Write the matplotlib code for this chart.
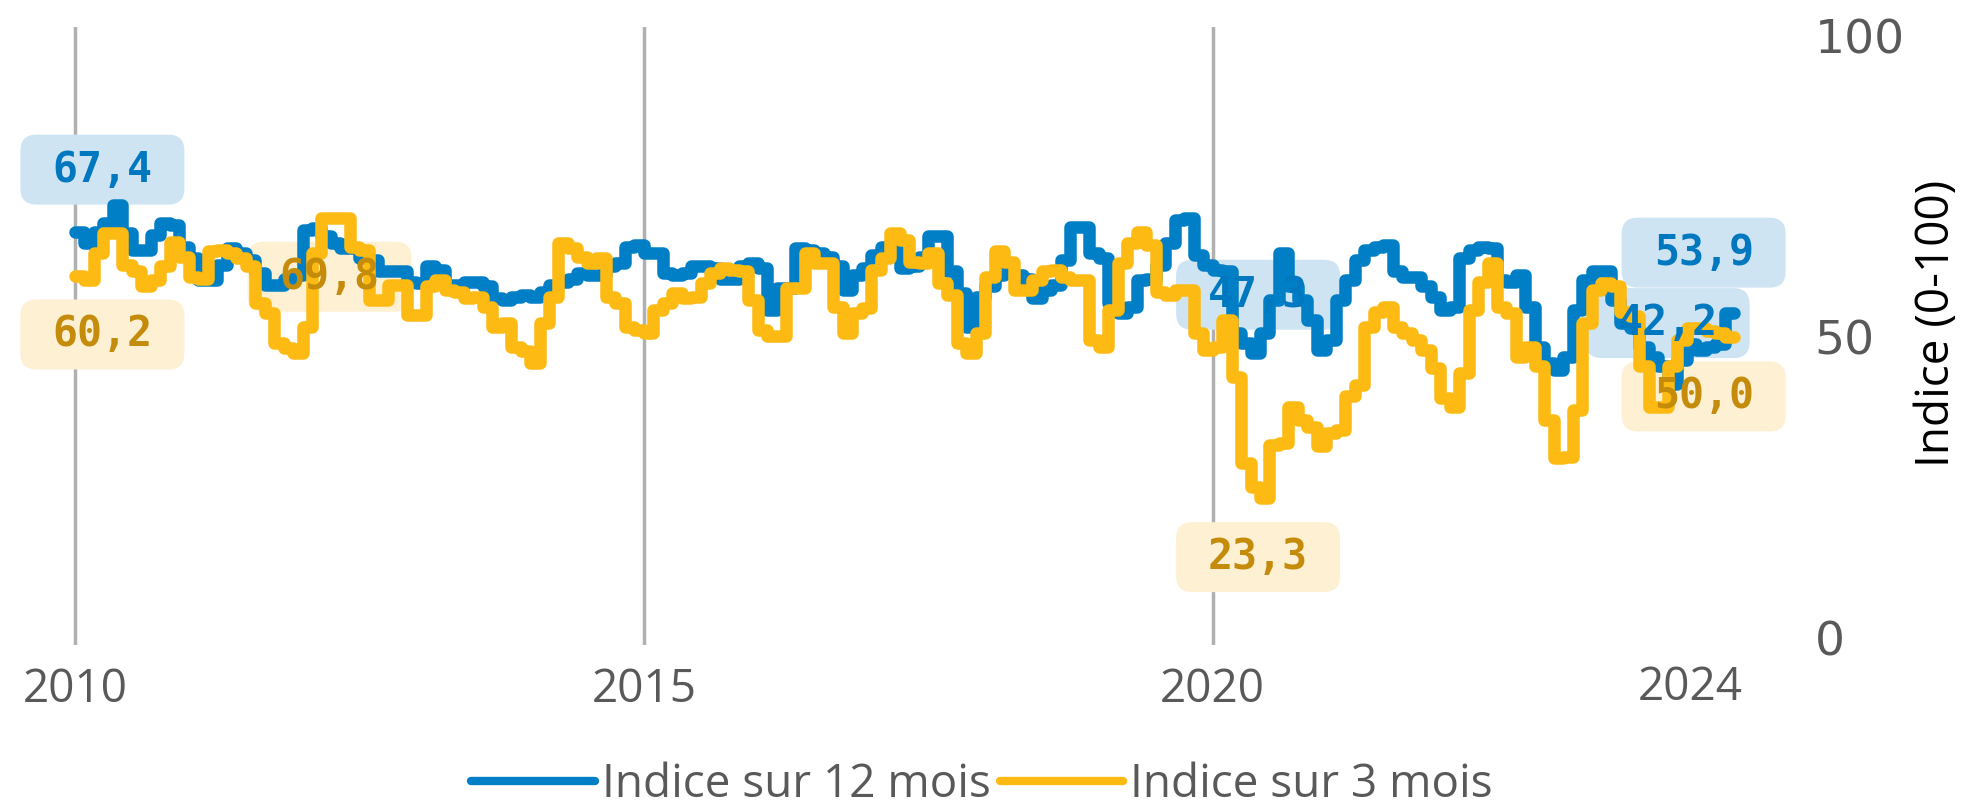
import numpy as np
import matplotlib
matplotlib.use("Agg")
import matplotlib.pyplot as plt
from matplotlib.patches import FancyBboxPatch
from matplotlib.lines import Line2D
import matplotlib.transforms as mtransforms

# monthly values, Jan 2010 -> Jul 2024
indice_12m = [
    67.4, 65.6, 67.5, 68.9, 71.9, 67.2, 64.5, 64.5, 67.0, 68.9, 68.6, 65.0,
    63.1, 59.5, 59.5, 62.0, 64.7, 63.9, 62.8, 60.6, 58.6, 58.6, 59.7, 60.3,
    67.8, 68.1, 66.7, 65.6, 64.7, 64.7, 63.1, 62.8, 60.9, 60.9, 60.9, 59.2,
    58.9, 61.7, 61.1, 58.6, 58.6, 59.2, 59.2, 58.4, 56.4, 56.2, 56.7, 57.0,
    56.7, 57.5, 58.6, 59.2, 59.7, 60.6, 60.3, 60.3, 61.7, 62.2, 65.0, 65.3,
    63.9, 63.9, 60.6, 60.3, 60.6, 61.7, 61.7, 61.4, 59.7, 59.7, 61.7, 62.2,
    61.4, 54.5, 58.1, 58.1, 64.7, 64.5, 63.9, 63.3, 61.7, 57.8, 60.3, 61.4,
    63.6, 65.0, 65.6, 61.4, 61.7, 63.3, 66.7, 66.7, 60.9, 57.3, 51.7, 56.7,
    58.4, 60.3, 60.9, 60.3, 59.7, 56.4, 57.8, 58.6, 62.8, 68.3, 68.3, 63.9,
    63.1, 55.6, 54.0, 55.0, 59.5, 59.7, 62.0, 65.6, 69.4, 69.7, 63.6, 62.0,
    61.1, 60.9, 50.6, 49.0, 47.3, 50.6, 56.2, 63.9, 58.4, 56.2, 52.8, 47.8,
    49.5, 56.2, 59.5, 62.8, 64.5, 65.0, 65.3, 60.9, 60.0, 60.0, 58.4, 56.7,
    54.5, 55.0, 63.1, 64.5, 65.0, 64.7, 59.5, 59.2, 60.3, 55.0, 48.4, 45.6,
    44.5, 46.7, 54.5, 59.5, 61.0, 60.9, 56.2, 52.3, 51.4, 48.4, 46.7, 45.1,
    42.2, 46.2, 48.9, 47.8, 48.4, 48.9, 53.9,
]
indice_3m = [
    60.2, 59.5, 63.9, 67.2, 67.2, 62.0, 60.9, 58.4, 59.5, 61.7, 65.8, 63.3,
    60.0, 59.7, 64.2, 64.5, 63.9, 63.1, 61.7, 55.6, 54.0, 49.0, 48.1, 47.3,
    51.7, 63.9, 69.8, 69.7, 69.7, 65.0, 64.5, 56.2, 56.2, 58.6, 58.6, 53.7,
    53.7, 58.4, 59.5, 57.8, 57.5, 56.4, 56.7, 55.0, 51.7, 52.3, 48.4, 47.6,
    45.6, 52.3, 56.7, 65.6, 64.7, 63.3, 62.2, 63.1, 56.7, 55.6, 51.7, 51.2,
    50.6, 54.5, 55.6, 57.3, 56.4, 56.7, 58.9, 60.6, 61.4, 61.1, 60.9, 56.2,
    51.2, 50.1, 50.1, 58.1, 58.1, 63.9, 62.2, 62.2, 55.0, 50.6, 54.0, 54.8,
    61.1, 63.1, 67.2, 66.1, 62.5, 62.2, 63.9, 58.9, 57.0, 49.0, 47.3, 50.6,
    60.0, 64.2, 62.5, 57.8, 57.8, 59.5, 60.9, 61.1, 60.0, 59.5, 59.5, 49.5,
    48.4, 54.5, 62.2, 65.6, 67.5, 65.3, 57.5, 57.0, 57.8, 57.8, 50.6, 47.8,
    48.4, 52.8, 43.4, 29.0, 25.1, 23.3, 32.1, 32.3, 38.4, 36.2, 35.1, 31.8,
    34.0, 34.5, 40.1, 42.0, 51.7, 54.2, 55.0, 51.7, 50.6, 49.5, 47.8, 44.8,
    39.8, 38.4, 44.0, 54.5, 59.2, 62.2, 55.0, 54.0, 46.7, 48.4, 45.1, 36.2,
    29.8, 30.1, 37.9, 52.3, 57.8, 58.9, 58.4, 54.2, 53.4, 45.1, 38.4, 38.4,
    45.1, 49.5, 51.4, 51.4, 50.9, 50.6, 50.0,
]
year_ticks = [0, 60, 120]
year_labels = ["2010", "2015", "2020"]

BLUE = "#007EC6"
YELLOW = "#FCBA12"
GREY = "#595959"
sans = ["Open Sans", "DejaVu Sans"]

fig = plt.figure(figsize=(19.61, 8.10), dpi=100)
ax = fig.add_axes([0.0, 165 / 810, 1795 / 1961, 618 / 810])

months = np.arange(len(indice_12m) + 1)
b = indice_12m + [indice_12m[-1]]
y = indice_3m + [indice_3m[-1]]
ax.step(months, b, where="post", color=BLUE, lw=9, zorder=3,
        solid_joinstyle="round", solid_capstyle="round")
ax.step(months, y, where="post", color=YELLOW, lw=9, zorder=4,
        solid_joinstyle="round", solid_capstyle="round")

ax.set_xlim(-75 / 9.48, 1720 / 9.48)
ax.set_ylim(-1.2, 101.5)
for s in ax.spines.values():
    s.set_visible(False)

ax.set_xticks(year_ticks)
ax.set_xticklabels(year_labels, fontsize=33, color=GREY, family=sans)
ax.tick_params(axis="x", length=0, pad=16)
ax.grid(axis="x", color="#B0B0B0", lw=2.5, zorder=1)
ax.set_axisbelow(True)

# 2024 label sits a bit higher than the others
trans = mtransforms.blended_transform_factory(ax.transData, ax.transAxes)
ax.text(170.4, -0.069, "2024", transform=trans, ha="center", va="center",
        fontsize=33, color=GREY, family=sans)

ax.yaxis.tick_right()
ax.set_yticks([0, 50, 100])
ax.set_yticklabels(["0", "50", "100"], fontsize=34, color=GREY)
ax.tick_params(axis="y", length=0, pad=14)
fig.text(1937 / 1961, 1 - 323 / 810, "Indice (0-100)", rotation=90,
         ha="center", va="center", fontsize=33, color="black", family=sans)

# data labels (box centre in months / index units)
def fmt(v):
    return f"{v:.1f}".replace(".", ",")

labels = [
    (indice_12m[0], 2.89, 77.8, "#CFE4F3", "#0078C0"),
    (indice_3m[0], 2.89, 50.4, "#FEF0D2", "#C48C0A"),
    (max(indice_3m), 26.85, 60.0, "#FEF0D2", "#C48C0A"),
    (indice_12m[124], 124.8, 57.0, "#CFE4F3", "#0078C0"),
    (min(indice_3m), 124.8, 13.4, "#FEF0D2", "#C48C0A"),
    (indice_12m[-1], 171.8, 64.0, "#CFE4F3", "#0078C0"),
    (min(indice_12m), 168.0, 52.3, "#CFE4F3", "#0078C0"),
    (indice_3m[-1], 171.8, 40.1, "#FEF0D2", "#C48C0A"),
]
bw, bh = 164 / 9.48, 70 / 6.02
for val, cx, cy, fc, tc in labels:
    box = FancyBboxPatch((cx - bw / 2, cy - bh / 2), bw, bh,
                         boxstyle="round,pad=0,rounding_size=1.7",
                         mutation_aspect=9.48 / 6.02,
                         fc=fc, ec="none", zorder=2)
    ax.add_patch(box)
    ax.text(cx, cy, fmt(val), ha="center", va="center", fontsize=30,
            fontweight="bold", family="DejaVu Sans Mono", color=tc, zorder=6)

handles = [Line2D([], [], color=BLUE, lw=6, solid_capstyle="round"),
           Line2D([], [], color=YELLOW, lw=6, solid_capstyle="round")]
leg = fig.legend(handles, ["Indice sur 12 mois", "Indice sur 3 mois"],
                 loc="center", bbox_to_anchor=(982 / 1961, 1 - 785 / 810),
                 ncol=2, frameon=False, handlelength=2.7, handletextpad=0.15,
                 columnspacing=0.2, prop={"family": sans, "size": 33})
for t in leg.get_texts():
    t.set_color(GREY)

fig.savefig("out.png", dpi=100)
